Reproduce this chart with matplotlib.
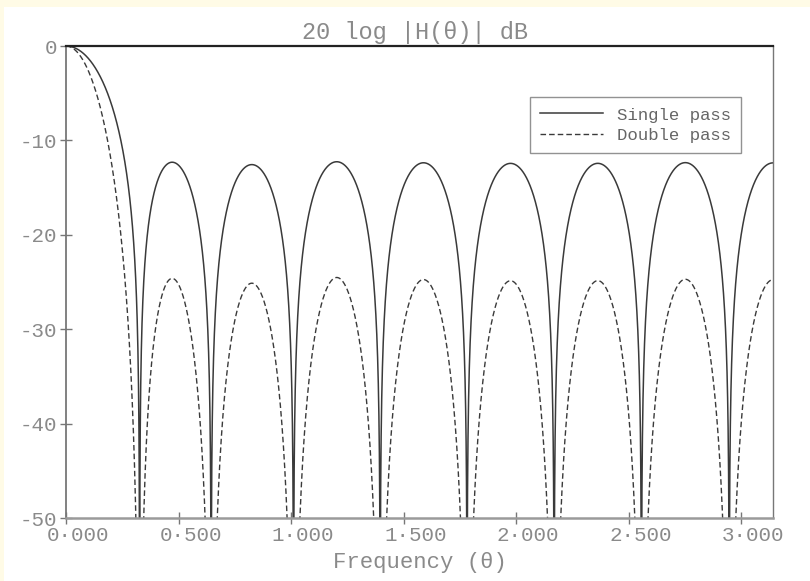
import numpy as np
import matplotlib
matplotlib.use("Agg")
import matplotlib.pyplot as plt
from matplotlib.patches import Rectangle
from matplotlib.transforms import ScaledTranslation

# Null frequencies (rad/sample) of the smoothing filter's response in (0, pi)
null_freqs = [0.327, 0.645, 1.011, 1.396, 1.782, 2.169, 2.557, 2.947]

x_ticks = [0.0, 0.5, 1.0, 1.5, 2.0, 2.5, 3.0]
x_tick_labels = ["0\u00b7000", "0\u00b7500", "1\u00b7000", "1\u00b7500",
                 "2\u00b7000", "2\u00b7500", "3\u00b7000"]
y_ticks = [0, -10, -20, -30, -40, -50]
y_tick_labels = ["0", "-10", "-20", "-30", "-40", "-50"]
series_labels = ["Single pass", "Double pass"]
passes = [1, 2]

plt.rcParams["font.family"] = ["Liberation Mono", "DejaVu Sans Mono", "DejaVu Sans"]
plt.rcParams["axes.unicode_minus"] = False

TEXT = "#8a8a8a"
CURVE = "#3a3a3a"

fig = plt.figure(figsize=(8.1, 5.81), dpi=100, facecolor="#fffbe6")
# white page area
fig.patches.append(Rectangle((4 / 810, 0), 1, 1 - 7 / 581, transform=fig.transFigure,
                             facecolor="white", edgecolor="none", zorder=-10))

ax = fig.add_axes([66 / 810, 1 - 518 / 581, 707 / 810, 472 / 581])
ax.set_facecolor("none")

# amplitude response of the symmetric FIR defined by its unit-circle nulls
theta = np.linspace(0, np.pi, 6000)
c = np.cos(np.asarray(null_freqs))
amp = np.prod(np.cos(theta)[:, None] - c[None, :], axis=1) / np.prod(1 - c)
mag = np.maximum(np.abs(amp), 1e-12)

styles = [dict(ls="-", lw=1.1), dict(ls=(0, (4.0, 2.2)), lw=1.0)]
for n, lab, st in zip(passes, series_labels, styles):
    ax.plot(theta, 20 * n * np.log10(mag), color=CURVE, label=lab, **st)

ax.set_xlim(0, np.pi)
ax.set_ylim(-50, 0)

ax.set_xticks(x_ticks)
ax.set_xticklabels(x_tick_labels)
ax.set_yticks(y_ticks)
ax.set_yticklabels(y_tick_labels)
ax.tick_params(axis="both", direction="inout", length=8.5, width=1.0,
               color="#777777", labelcolor=TEXT, labelsize=15)
ax.tick_params(axis="x", pad=1.5)
ax.tick_params(axis="y", pad=2)
for lbl in ax.get_xticklabels():
    lbl.set_transform(lbl.get_transform() + ScaledTranslation(12 / 100, 0, fig.dpi_scale_trans))

ax.spines["top"].set_color("#222222")
ax.spines["top"].set_linewidth(1.6)
ax.spines["left"].set_color("#777777")
ax.spines["left"].set_linewidth(1.3)
ax.spines["right"].set_color("#777777")
ax.spines["right"].set_linewidth(1.0)
ax.spines["bottom"].set_color("#9a9a9a")
ax.spines["bottom"].set_linewidth(1.8)

ax.set_xlabel("Frequency (\u03b8)", fontsize=16, color=TEXT, labelpad=5)
fig.text(415 / 810, 1 - 32 / 581, "20 log |H(\u03b8)| dB", ha="center", va="center",
         fontsize=17, color=TEXT)

leg = ax.legend(loc="upper right", bbox_to_anchor=(0.955, 0.892), borderaxespad=0,
                fontsize=12.5, frameon=True, fancybox=False, handlelength=3.6,
                handletextpad=0.8, borderpad=0.6, labelspacing=0.3)
leg.get_frame().set_edgecolor("#777777")
leg.get_frame().set_linewidth(1.0)
for t in leg.get_texts():
    t.set_color("#666666")

fig.savefig("out.png", dpi=100, facecolor=fig.get_facecolor())
